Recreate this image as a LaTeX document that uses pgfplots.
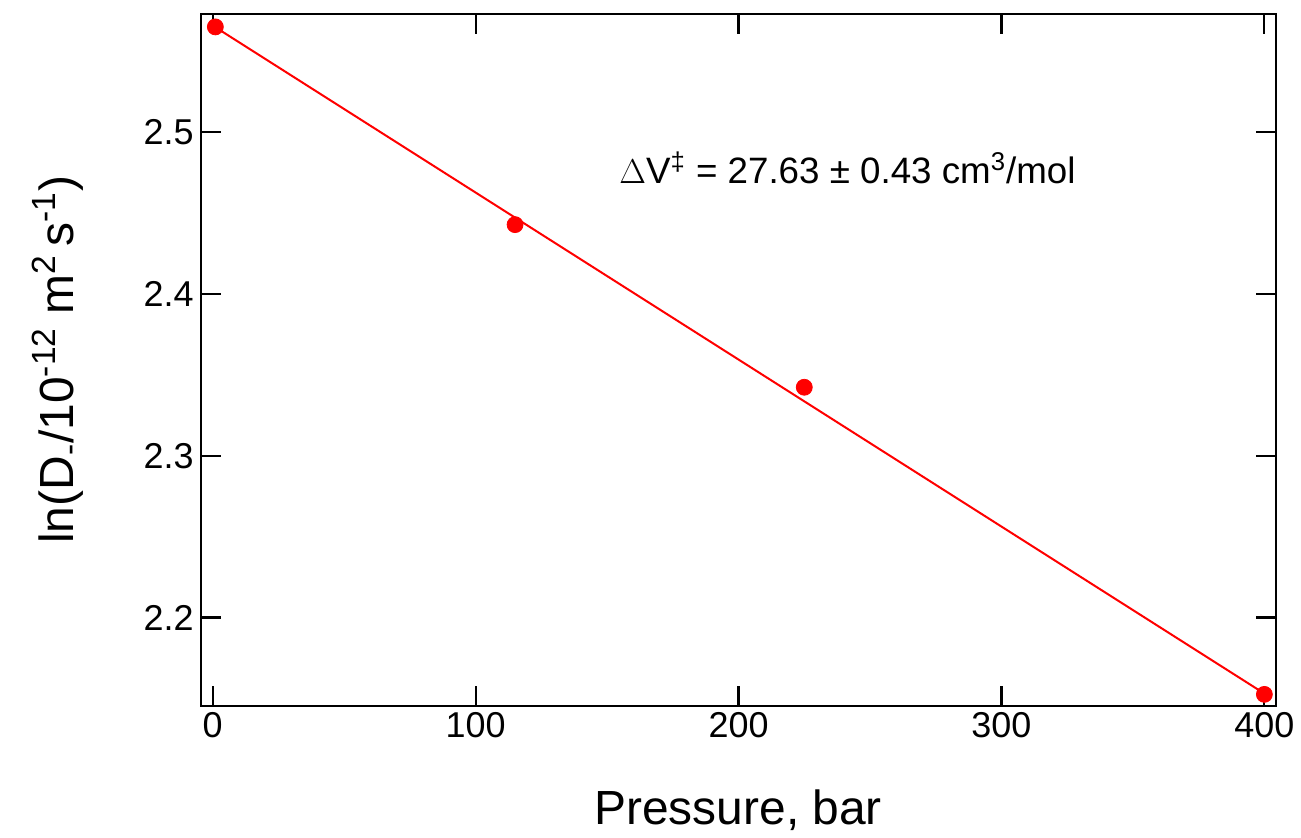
\documentclass[border=0pt]{standalone}
\usepackage{fontspec}
\setmainfont{Liberation Sans}
\usepackage{pgfplots}
\pgfplotsset{compat=1.18}

\begin{document}
\begin{tikzpicture}
\begin{axis}[
  scale only axis,
  width=538.5pt, height=346.5pt,
  xmin=-4.6, xmax=404.3,
  ymin=2.1455, ymax=2.573,
  xtick={0,100,200,300,400},
  ytick={2.2,2.3,2.4,2.5},
  minor tick num=0,
  tick align=inside,
  major tick length=10pt,
  axis line style={line width=1.1pt},
  tick style={black, line width=1.1pt},
  /pgf/number format/assume math mode=true,
  yticklabel style={/pgf/number format/fixed, /pgf/number format/precision=1, /pgf/number format/fixed zerofill},
  ticklabel style={font=\fontsize{18}{20}\selectfont},
  label style={font=\fontsize{24}{28}\selectfont},
  xlabel={Pressure, bar},
  ylabel={ln(D\textsubscript{-}/10\textsuperscript{-12} m\textsuperscript{2}\,s\textsuperscript{-1})},
  xlabel style={at={(axis description cs:0.5,-0.1515)}, anchor=center},
  ylabel style={at={(axis description cs:-0.133,0.5)}, anchor=center},
  clip=false,
]
% linear fit of ln D against pressure
\addplot[red, line width=1pt] coordinates {(1,2.5648) (400,2.1530)};
% measured points
\addplot[only marks, mark=*, mark size=4pt, red, mark options={draw=red, fill=red}]
  coordinates {(1,2.565) (115,2.4428) (225,2.3423) (400,2.1525)};
\node[anchor=west, font=\fontsize{18.4}{21}\selectfont] at (axis cs:152,2.478)
  {$\Delta$V\textsuperscript{‡} = 27.63 ± 0.43 cm\textsuperscript{3}/mol};
\end{axis}
\path (current axis.south west) ++(-100.5pt,-64pt) rectangle ([xshift=11.5pt,yshift=7pt]current axis.north east);
\end{tikzpicture}
\end{document}
